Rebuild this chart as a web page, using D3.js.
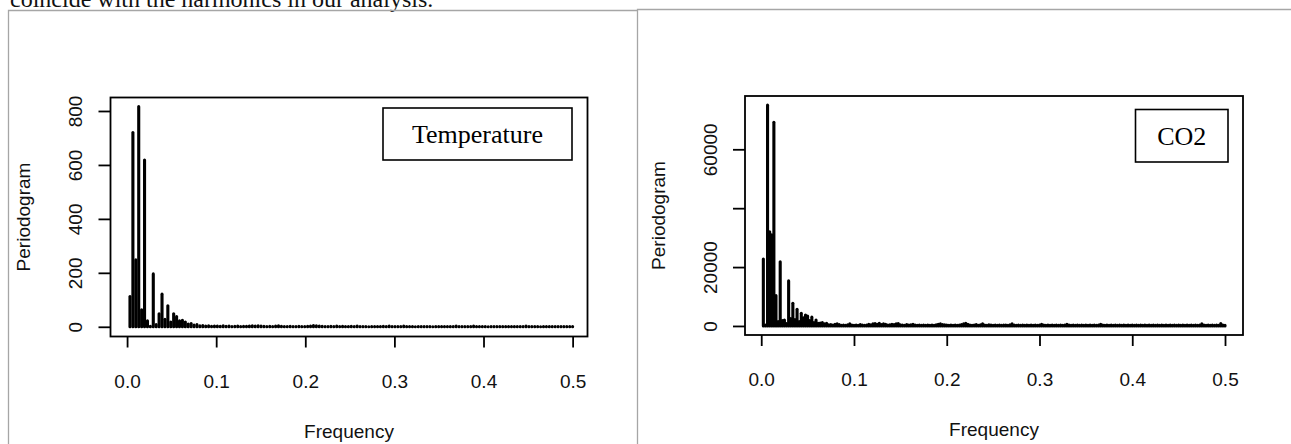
<!DOCTYPE html>
<html>
<head>
<meta charset="utf-8">
<script src="https://cdn.jsdelivr.net/npm/d3@7"></script>
<style>
  html, body { margin: 0; padding: 0; background: #fff; }
  svg { display: block; }
</style>
</head>
<body>
<div id="chart"></div>
<script>
// periodogram ordinates at the Fourier frequencies k/n, k = 1..n/2
const tempN = 306;
const tempPower = [
  112, 720, 248, 816, 63, 618, 22, 2, 196, 8,
  48, 121, 28, 78, 18, 48, 38, 22, 24, 18,
  10, 12, 6, 8, 4, 5, 3, 4, 2, 3,
  3, 2, 4, 2, 3, 1, 2, 3, 1, 2,
  2, 3, 4, 3, 4, 3, 2, 1, 2, 1,
  3, 4, 2, 1, 1, 2, 1, 1, 2, 1,
  1, 2, 3, 5, 4, 3, 2, 1, 1, 2,
  1, 3, 1, 2, 1, 1, 2, 1, 3, 1,
  1, 1, 0, 1, 1, 1, 1, 2, 1, 3,
  1, 1, 1, 1, 3, 1, 1, 1, 0, 1,
  1, 1, 1, 1, 0, 1, 1, 1, 1, 1,
  1, 1, 3, 1, 1, 1, 1, 1, 3, 1,
  1, 1, 1, 0, 1, 1, 1, 1, 1, 1,
  1, 1, 1, 1, 1, 1, 3, 1, 1, 1,
  1, 0, 1, 1, 1, 1, 1, 1, 1, 1,
  1, 1, 1
];

const co2N = 440;
const co2Power = [
  22700, 300, 75000, 32000, 31000, 69200, 10300, 1500, 21800, 1800,
  2000, 800, 15300, 2500, 7700, 2200, 5700, 1500, 4300, 2800,
  3700, 3400, 1800, 3000, 1200, 2000, 900, 1000, 1200, 700,
  900, 400, 500, 300, 600, 700, 500, 200, 300, 200,
  400, 700, 300, 200, 300, 200, 500, 300, 200, 300,
  600, 400, 700, 800, 600, 900, 500, 700, 600, 300,
  400, 600, 500, 700, 800, 400, 300, 200, 500, 300,
  400, 600, 300, 200, 300, 200, 300, 200, 300, 200,
  300, 200, 400, 600, 700, 500, 400, 300, 200, 300,
  200, 300, 200, 300, 500, 700, 900, 600, 300, 200,
  300, 500, 200, 400, 700, 300, 200, 400, 300, 200,
  300, 200, 300, 200, 300, 300, 200, 400, 700, 300,
  200, 300, 200, 300, 200, 300, 200, 300, 200, 300,
  200, 300, 600, 300, 200, 300, 200, 300, 200, 300,
  200, 300, 200, 300, 600, 300, 200, 300, 200, 300,
  200, 300, 200, 300, 200, 300, 200, 300, 200, 300,
  600, 300, 200, 300, 200, 300, 200, 300, 200, 300,
  200, 300, 200, 300, 200, 300, 200, 300, 200, 300,
  200, 300, 200, 300, 200, 300, 200, 300, 200, 300,
  200, 300, 200, 300, 200, 300, 200, 300, 200, 300,
  200, 300, 200, 300, 200, 300, 200, 300, 700, 300,
  200, 300, 200, 300, 200, 300, 200, 800, 300, 200
];

const xTicks = [0, 0.1, 0.2, 0.3, 0.4, 0.5];
const xTickLabels = ["0.0", "0.1", "0.2", "0.3", "0.4", "0.5"];
const tempYTicks = [0, 200, 400, 600, 800];
const tempYLabels = ["0", "200", "400", "600", "800"];
const co2YTicks = [0, 20000, 40000, 60000];
const co2YLabels = ["0", "20000", "", "60000"];   // R dropped the 40000 label
const panelNames = ["Temperature", "CO2"];

(function(){
  const W = 1291, H = 444;
  const sans = "'Liberation Sans', Arial, Helvetica, sans-serif";
  const serif = "'Liberation Serif', 'Times New Roman', serif";

  const svg = d3.select("#chart").append("svg")
    .attr("width", W).attr("height", H);

  // bit of the paragraph above, cut by the crop
  svg.append("text")
    .attr("x", 10).attr("y", 7)
    .attr("font-family", serif).attr("font-size", 24)
    .attr("fill", "#111")
    .text("coincide with the harmonics in our analysis.");

  // grey frames of the two figure cells
  const frame = svg.append("g").attr("fill", "none").attr("stroke", "#a6a6a6").attr("stroke-width", 1.3);
  frame.append("path").attr("d", "M8.5," + H + "V10.5H637.5");
  frame.append("path").attr("d", "M637.5," + H + "V9.5H" + W);

  drawPanel({
    n: tempN, power: tempPower,
    xDomain: [-0.0186, 0.5167], xRange: [110.5, 587.5],
    yDomain: [-36, 850], yRange: [336.5, 97.5],
    yTicks: tempYTicks, yLabels: tempYLabels,
    name: panelNames[0],
    legend: { x0: 383, x1: 572, y0: 108, y1: 160 },
    yTitleX: 30, xLabelBase: 388, xTitleBase: 438
  });

  drawPanel({
    n: co2N, power: co2Power,
    xDomain: [-0.0175, 0.5194], xRange: [745, 1243],
    yDomain: [-3070, 78100], yRange: [335, 96],
    yTicks: co2YTicks, yLabels: co2YLabels,
    name: panelNames[1],
    legend: { x0: 1135.5, x1: 1228, y0: 109.5, y1: 162 },
    yTitleX: 665, xLabelBase: 386, xTitleBase: 436
  });

  function drawPanel(cfg) {
    const x = d3.scaleLinear().domain(cfg.xDomain).range(cfg.xRange);
    const y = d3.scaleLinear().domain(cfg.yDomain).range(cfg.yRange);
    const [left, right] = cfg.xRange;
    const [bottom, top] = cfg.yRange;
    const g = svg.append("g");

    // type = "h" spikes, round caps so zero ordinates leave a dot
    g.append("g")
      .selectAll("path")
      .data(cfg.power)
      .join("path")
      .attr("d", (d, i) => {
        const fx = x((i + 1) / cfg.n);
        return "M" + fx + "," + y(0) + "L" + fx + "," + y(d);
      })
      .attr("stroke", "#000")
      .attr("stroke-width", 3.1)
      .attr("stroke-linecap", "round")
      .attr("fill", "none");

    // plot box
    g.append("rect")
      .attr("x", left).attr("y", top)
      .attr("width", right - left).attr("height", bottom - top)
      .attr("fill", "none").attr("stroke", "#000").attr("stroke-width", 1.8);

    // x axis
    const xAxis = g.append("g")
      .attr("transform", "translate(0," + bottom + ")")
      .call(d3.axisBottom(x).tickValues(xTicks).tickSize(11)
        .tickFormat((d, i) => xTickLabels[i]));
    xAxis.select(".domain").remove();
    xAxis.selectAll("line").attr("stroke", "#000").attr("stroke-width", 1.8);
    xAxis.selectAll("text")
      .attr("y", cfg.xLabelBase - bottom).attr("dy", null)
      .attr("font-family", sans).attr("font-size", 19).attr("fill", "#111");

    // y axis, labels turned like R's las = 0
    const yAxis = g.append("g")
      .attr("transform", "translate(" + left + ",0)")
      .call(d3.axisLeft(y).tickValues(cfg.yTicks).tickSize(12)
        .tickFormat((d, i) => cfg.yLabels[i]));
    yAxis.select(".domain").remove();
    yAxis.selectAll("line").attr("stroke", "#000").attr("stroke-width", 1.8);
    yAxis.selectAll("text")
      .attr("font-family", sans).attr("font-size", 19).attr("fill", "#111")
      .attr("x", null).attr("dy", null)
      .attr("text-anchor", "middle")
      .attr("transform", "translate(-28.5,0) rotate(-90)");

    // axis titles
    g.append("text")
      .attr("x", (left + right) / 2).attr("y", cfg.xTitleBase)
      .attr("text-anchor", "middle")
      .attr("font-family", sans).attr("font-size", 19).attr("fill", "#111")
      .text("Frequency");

    g.append("text")
      .attr("transform", "translate(" + cfg.yTitleX + "," + (top + bottom) / 2 + ") rotate(-90)")
      .attr("text-anchor", "middle")
      .attr("font-family", sans).attr("font-size", 19).attr("fill", "#111")
      .text("Periodogram");

    // legend box
    const lg = cfg.legend;
    g.append("rect")
      .attr("x", lg.x0).attr("y", lg.y0)
      .attr("width", lg.x1 - lg.x0).attr("height", lg.y1 - lg.y0)
      .attr("fill", "#fff").attr("stroke", "#000").attr("stroke-width", 1.6);
    g.append("text")
      .attr("x", (lg.x0 + lg.x1) / 2).attr("y", (lg.y0 + lg.y1) / 2 + 9)
      .attr("text-anchor", "middle")
      .attr("font-family", serif).attr("font-size", 26).attr("fill", "#000")
      .text(cfg.name);
  }
})();
</script>
</body>
</html>
